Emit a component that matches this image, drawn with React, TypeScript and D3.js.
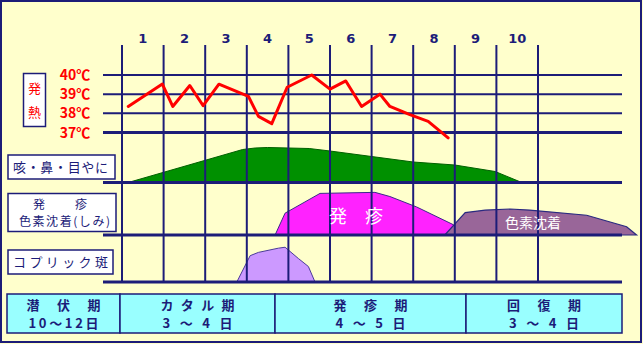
import React from "react";
import * as d3 from "d3";

const dayLabels = ["1", "2", "3", "4", "5", "6", "7", "8", "9", "10"];
const tempTicks = [40, 39, 38, 37];

// temperature curve: [day position, °C]
const feverDays = [0.15, 0.97, 1.22, 1.63, 1.95, 2.33, 3.04, 3.28, 3.6, 3.97, 4.56, 5.0, 5.38, 5.76, 6.2, 6.44, 6.92, 7.36, 7.84];
const feverTemps = [38.36, 39.53, 38.36, 39.45, 38.4, 39.52, 38.88, 37.84, 37.46, 39.36, 40.0, 39.26, 39.69, 38.36, 39.0, 38.36, 37.93, 37.58, 36.72];

// cough / nose / eye discharge intensity
const coughDays = [0.15, 2.9, 3.2, 3.5, 4.5, 5.0, 6.0, 7.0, 8.0, 8.97, 9.61];
const coughVals = [0.0, 0.66, 0.69, 0.7, 0.68, 0.63, 0.52, 0.41, 0.35, 0.22, 0.0];

// rash intensity
const rashDays = [3.68, 3.92, 4.76, 6.08, 6.44, 7.08, 7.96, 8.15];
const rashVals = [0.0, 0.42, 0.8, 0.82, 0.74, 0.54, 0.2, 0.0];

// pigmentation intensity
const pigDays = [7.76, 8.25, 8.73, 9.33, 9.8, 11.17, 12.13, 12.37];
const pigVals = [0.0, 0.43, 0.48, 0.5, 0.48, 0.38, 0.16, 0.0];

// Koplik spots intensity
const koplikDays = [2.76, 3.08, 3.28, 3.76, 3.92, 4.24, 4.48, 4.64];
const koplikVals = [0.0, 0.56, 0.63, 0.72, 0.74, 0.5, 0.33, 0.0];

const phaseNames = ["潜伏期", "カタル期", "発疹期", "回復期"];
const phaseDurations = ["10～12日", "3～4日", "4～5日", "3～4日"];
const phaseEdges = [7, 120, 275, 466, 622];

const NAVY = "#1c1c78";
const FONT = "'Noto Sans CJK JP', 'Noto Sans', sans-serif";

export default function App() {
  const W = 643;
  const H = 344;
  const x = d3.scaleLinear().domain([0, 10]).range([122, 538]);
  const yT = d3.scaleLinear().domain([37, 40]).range([132.5, 75]);
  const yCough = d3.scaleLinear().domain([0, 1]).range([182.5, 132.5]);
  const yRash = d3.scaleLinear().domain([0, 1]).range([235, 183]);
  const yKop = d3.scaleLinear().domain([0, 1]).range([282, 235]);

  const feverLine = d3
    .line<number>()
    .x((_, i) => x(feverDays[i]))
    .y((t) => yT(t))
    .curve(d3.curveLinear)(feverTemps) as string;

  const mkArea = (days: number[], ys: d3.ScaleLinear<number, number>) =>
    d3
      .area<number>()
      .x((_, i) => x(days[i]))
      .y0(ys(0))
      .y1((v) => ys(v))
      .curve(d3.curveLinear);

  const coughPath = mkArea(coughDays, yCough)(coughVals) as string;
  const rashPath = mkArea(rashDays, yRash)(rashVals) as string;
  const pigPath = mkArea(pigDays, yRash)(pigVals) as string;
  const kopPath = mkArea(koplikDays, yKop)(koplikVals) as string;

  const hx0 = 103;
  const hx1 = 622;

  return (
    <svg
      width={W}
      height={H}
      style={{ position: "absolute", left: 0, top: 0, display: "block" }}
      fontFamily={FONT}
    >
      <rect x={0} y={0} width={W} height={H} fill="#ffffcc" />
      <rect x={1} y={1} width={640} height={341} fill="none" stroke={NAVY} strokeWidth={2} />

      {/* shapes */}
      <path d={coughPath} fill="#009000" stroke="#006000" strokeWidth={1} />
      <path d={rashPath} fill="#ff22ff" stroke="#3a2a8a" strokeWidth={1} />
      <path d={pigPath} fill="#996699" stroke="#2a2a80" strokeWidth={1.2} />
      <path d={kopPath} fill="#cc99ff" stroke="#4a3a9a" strokeWidth={1} />

      {/* vertical grid */}
      {d3.range(0, 11).map((d) => (
        <line key={"v" + d} x1={x(d)} x2={x(d)} y1={45} y2={282} stroke={NAVY} strokeWidth={2} />
      ))}
      {/* temperature grid */}
      {tempTicks.map((t) => (
        <line
          key={"t" + t}
          x1={hx0}
          x2={hx1}
          y1={yT(t)}
          y2={yT(t)}
          stroke={NAVY}
          strokeWidth={t === 37 ? 3 : 2}
        />
      ))}
      {/* band baselines */}
      {[yCough(0), yRash(0), yKop(0)].map((yy, i) => (
        <line key={"b" + i} x1={hx0} x2={hx1} y1={yy} y2={yy} stroke={NAVY} strokeWidth={3} />
      ))}

      {/* fever line */}
      <path d={feverLine} fill="none" stroke="#ff0000" strokeWidth={3} strokeLinejoin="round" strokeLinecap="round" />

      {/* day labels */}
      {dayLabels.map((l, i) => (
        <text
          key={"d" + l}
          x={(x(i) + x(i + 1)) / 2}
          y={43}
          textAnchor="middle"
          fontSize={13}
          fontWeight="bold"
          fill={NAVY}
          fontFamily="'DejaVu Sans', sans-serif"
        >
          {l}
        </text>
      ))}

      {/* temp labels */}
      {tempTicks.map((t) => (
        <text
          key={"tl" + t}
          x={75}
          y={yT(t) + 5}
          textAnchor="middle"
          fontSize={14}
          fontWeight="bold"
          fill="#ff0000"
          fontFamily={FONT}
        >
          {t + "℃"}
        </text>
      ))}

      {/* fever label box */}
      <rect x={23.5} y={73.5} width={22} height={53} fill="#ffffff" stroke={NAVY} strokeWidth={1.5} />
      <text x={34.5} y={93} textAnchor="middle" fontSize={13} fill="#ff0000">発</text>
      <text x={34.5} y={117} textAnchor="middle" fontSize={13} fill="#ff0000">熱</text>

      {/* row label boxes */}
      <rect x={8} y={155} width={107} height={24} fill="#ffffff" stroke={NAVY} strokeWidth={1.5} />
      <text x={13} y={172} fontSize={13} fill={NAVY} textLength={95} lengthAdjust="spacing">咳・鼻・目やに</text>

      <rect x={8} y={193.5} width={108} height={38} fill="#ffffff" stroke={NAVY} strokeWidth={1.5} />
      <text x={33} y={209} fontSize={12} fill={NAVY} textLength={54} lengthAdjust="spacing">発疹</text>
      <text x={19} y={226} fontSize={12} fill={NAVY} textLength={91} lengthAdjust="spacing">色素沈着(しみ)</text>

      <rect x={8} y={250} width={105} height={24} fill="#ffffff" stroke={NAVY} strokeWidth={1.5} />
      <text x={13} y={267} fontSize={13} fill={NAVY} textLength={95} lengthAdjust="spacing">コプリック斑</text>

      {/* inner labels */}
      <text x={356} y={223} textAnchor="middle" fontSize={18} fill="#ffffff">発　疹</text>
      <text x={533} y={228} textAnchor="middle" fontSize={14} fill="#ffffff">色素沈着</text>

      {/* phase table */}
      {phaseNames.map((n, i) => {
        const a = phaseEdges[i];
        const b = phaseEdges[i + 1];
        const cx = (a + b) / 2;
        return (
          <g key={"p" + i}>
            <rect x={a} y={294} width={b - a} height={39} fill="#99ffff" stroke={NAVY} strokeWidth={1.5} />
            <text x={cx - 37} y={310} fontSize={13} fill={NAVY} fontWeight="bold" textLength={74} lengthAdjust="spacing">
              {n}
            </text>
            <text x={cx - 35} y={328} fontSize={13} fill={NAVY} fontWeight="bold" textLength={70} lengthAdjust="spacing">
              {phaseDurations[i]}
            </text>
          </g>
        );
      })}
    </svg>
  );
}
